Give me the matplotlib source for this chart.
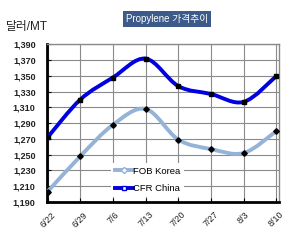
import matplotlib
matplotlib.use("Agg")
import matplotlib.pyplot as plt
from matplotlib.path import Path
from matplotlib.patches import PathPatch
from matplotlib.lines import Line2D
import numpy as np

plt.rcParams['font.family'] = ['Liberation Sans', 'Noto Sans CJK KR', 'DejaVu Sans']

dates = ["6/22", "6/29", "7/6", "7/13", "7/20", "7/27", "8/3", "8/10"]
fob_korea = [1203, 1248, 1288, 1308, 1269, 1257, 1252, 1280]
cfr_china = [1272, 1320, 1348, 1372, 1337, 1327, 1317, 1350]
yticks = list(range(1190, 1391, 20))

fig = plt.figure(figsize=(3.05, 2.47), dpi=100)
ax = fig.add_axes([0.153, 0.183, 0.762, 0.637])

def smooth_path(xs, ys):
    pts = np.column_stack([xs, ys]).astype(float)
    n = len(pts)
    verts = [pts[0]]
    codes = [Path.MOVETO]
    for i in range(n - 1):
        p0 = pts[i - 1] if i > 0 else pts[i]
        p1 = pts[i]
        p2 = pts[i + 1]
        p3 = pts[i + 2] if i + 2 < n else pts[i + 1]
        c1 = p1 + (p2 - p0) / 6.0
        c2 = p2 - (p3 - p1) / 6.0
        verts += [c1, c2, p2]
        codes += [Path.CURVE4] * 3
    return Path(verts, codes)

x = np.arange(len(dates))
ax.add_patch(PathPatch(smooth_path(x, fob_korea), fill=False, edgecolor='#95B3D7', lw=2.8, zorder=3))
ax.add_patch(PathPatch(smooth_path(x, cfr_china), fill=False, edgecolor='#0000E0', lw=2.8, zorder=3))
ax.plot(x, fob_korea, linestyle='none', marker='D', ms=2.8, color='black', zorder=4)
ax.plot(x, cfr_china, linestyle='none', marker='s', ms=2.8, color='black', zorder=4)

ax.set_xlim(-0.03, 7.08)
ax.set_ylim(1190, 1390)
ax.set_yticks(yticks)
ax.set_yticklabels([f"{v:,}" for v in yticks], fontsize=6.5, fontweight='bold', color='#222222')
ax.set_xticks(x)
ax.set_xticklabels(dates, rotation=45, ha='center', va='top', fontsize=6.5, color='#222222')
ax.tick_params(axis='y', direction='in', length=3, pad=8, width=0.8)
ax.tick_params(axis='x', direction='in', length=3, pad=6, width=0.8)
ax.grid(True, color='#8a8a8a', lw=0.8)
ax.set_axisbelow(True)
for s in ['left', 'bottom']:
    ax.spines[s].set_linewidth(2)
    ax.spines[s].set_color('black')
for s in ['top', 'right']:
    ax.spines[s].set_linewidth(1)
    ax.spines[s].set_color('#8a8a8a')

handles = [
    Line2D([], [], color='#95B3D7', lw=2.8, marker='D', ms=3.2, mfc='white', mec='#95B3D7'),
    Line2D([], [], color='#0000E0', lw=2.8, marker='s', ms=3.2, mfc='white', mec='#0000E0'),
]
leg = ax.legend(handles, ["FOB Korea", "CFR China"], loc='lower center',
                bbox_to_anchor=(0.434, 0.03), fontsize=6.8, frameon=True,
                fancybox=False, edgecolor='none', facecolor='white', framealpha=1,
                handlelength=1.9, handletextpad=0.0, labelspacing=0.85, borderpad=0.45,
                borderaxespad=0)
leg.set_zorder(5)

fig.text(0.548, 0.923, "Propylene 가격추이", ha='center', va='center', fontsize=7,
         color='white', bbox=dict(boxstyle='square,pad=0.3', fc='#3C5A8A', ec='none'))
fig.text(0.02, 0.89, "달러/MT", ha='left', va='center', fontsize=8.5, color='#222222')

fig.savefig("out.png", dpi=100)
